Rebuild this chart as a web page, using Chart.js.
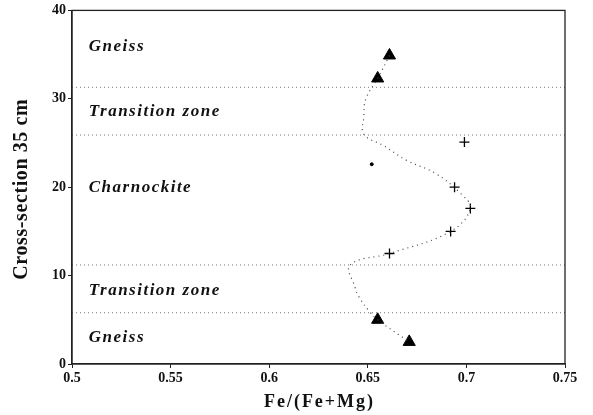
<!DOCTYPE html>
<html>
<head>
<meta charset="utf-8">
<script src="https://cdn.jsdelivr.net/npm/chart.js@4/dist/chart.umd.min.js"></script>
<style>
  html, body { margin: 0; padding: 0; background: #fff; }
  #wrap { width: 593px; height: 415px; }
</style>
</head>
<body>
<div id="wrap"><canvas id="chart"></canvas></div>
<script>
// measured samples
const triX = [0.661, 0.655, 0.655, 0.671];
const triY = [34.9, 32.3, 5.0, 2.5];
const crossX = [0.699, 0.694, 0.702, 0.692, 0.661];
const crossY = [25.1, 20.0, 17.6, 15.0, 12.5];
const dotX = [0.652];
const dotY = [22.6];

// fitted dotted profile
const curveX = [0.661, 0.655, 0.649, 0.648, 0.648, 0.658, 0.670, 0.684, 0.697, 0.702, 0.692, 0.661, 0.641, 0.6435, 0.6455, 0.651, 0.655, 0.671];
const curveY = [34.9, 32.3, 30.0, 28.0, 26.0, 24.7, 23.0, 21.6, 19.3, 17.6, 15.0, 12.5, 11.2, 8.7, 7.6, 5.9, 5.0, 2.5];

// zone boundaries and names
const boundaries = [31.3, 25.9, 11.2, 5.8];
const zoneNames = ['Gneiss', 'Transition zone', 'Charnockite', 'Transition zone', 'Gneiss'];
const zoneY = [35.9, 28.5, 20.0, 8.3, 3.0];

const xTicks = [0.5, 0.55, 0.6, 0.65, 0.7, 0.75];
const yTicks = [0, 10, 20, 30, 40];

const xTitle = 'Fe/(Fe+Mg)';
const yTitle = 'Cross-section 35 cm';

const SERIF = '"Liberation Serif", "DejaVu Serif", serif';

function pts(xs, ys) {
    return xs.map((x, i) => ({ x: x, y: ys[i] }));
}

const boundarySets = boundaries.map(b => ({
    data: [{ x: 0.5, y: b }, { x: 0.75, y: b }],
    showLine: true,
    borderColor: '#777',
    borderWidth: 1,
    borderDash: [1, 3],
    pointRadius: 0
}));

const frameAndLabels = {
    id: 'frameAndLabels',
    afterDatasetsDraw(chart) {
        const ctx = chart.ctx;
        const a = chart.chartArea;
        const xs = chart.scales.x, ys = chart.scales.y;
        ctx.save();
        ctx.strokeStyle = '#222';
        ctx.lineWidth = 1.3;
        ctx.strokeRect(a.left, a.top, a.right - a.left, a.bottom - a.top);
        ctx.fillStyle = '#111';

        // zone names
        ctx.font = 'italic bold 17px ' + SERIF;
        ctx.letterSpacing = '1.5px';
        ctx.textBaseline = 'middle';
        ctx.textAlign = 'left';
        zoneNames.forEach((name, i) => {
            ctx.fillText(name, xs.getPixelForValue(0.5085), ys.getPixelForValue(zoneY[i]));
        });

        // axis titles
        ctx.textAlign = 'center';
        ctx.textBaseline = 'alphabetic';
        ctx.font = 'bold 18px ' + SERIF;
        ctx.letterSpacing = '2px';
        ctx.fillText(xTitle, (a.left + a.right) / 2 + 1, 407);

        ctx.font = 'bold 20px ' + SERIF;
        ctx.letterSpacing = '0.6px';
        ctx.translate(27, (a.top + a.bottom) / 2 + 2);
        ctx.rotate(-Math.PI / 2);
        ctx.fillText(yTitle, 0, 0);
        ctx.restore();
    }
};

new Chart(document.getElementById('chart'), {
    type: 'scatter',
    data: {
        datasets: [
            ...boundarySets,
            {
                data: pts(curveX, curveY),
                showLine: true,
                borderColor: '#444',
                borderWidth: 1.2,
                borderDash: [1, 4],
                tension: 0.4,
                pointRadius: 0
            },
            {
                data: pts(triX, triY),
                pointStyle: 'triangle',
                pointRadius: 7,
                backgroundColor: '#000',
                borderColor: '#000'
            },
            {
                data: pts(crossX, crossY),
                pointStyle: 'cross',
                pointRadius: 5,
                borderWidth: 1.3,
                borderColor: '#000'
            },
            {
                data: pts(dotX, dotY),
                pointRadius: 1.5,
                backgroundColor: '#000',
                borderColor: '#000'
            }
        ]
    },
    options: {
        responsive: true,
        maintainAspectRatio: false,
        animation: false,
        layout: { padding: { top: 10, right: 28, left: 0, bottom: 0 } },
        plugins: {
            legend: { display: false },
            tooltip: { enabled: false }
        },
        scales: {
            x: {
                type: 'linear',
                min: 0.5,
                max: 0.75,
                afterBuildTicks: s => { s.ticks = xTicks.map(v => ({ value: v })); },
                afterFit: s => { s.height = 51; },
                grid: { drawOnChartArea: false, tickLength: 4, color: '#222' },
                border: { color: '#222', width: 1.3 },
                ticks: {
                    color: '#111',
                    font: { family: SERIF, size: 14, weight: 'bold' },
                    padding: 2,
                    callback: v => String(Number(v.toFixed(2)))
                }
            },
            y: {
                type: 'linear',
                min: 0,
                max: 40,
                afterBuildTicks: s => { s.ticks = yTicks.map(v => ({ value: v })); },
                afterFit: s => { s.width = 72; },
                grid: { drawOnChartArea: false, tickLength: 4, color: '#222' },
                border: { color: '#222', width: 1.3 },
                ticks: {
                    color: '#111',
                    font: { family: SERIF, size: 14, weight: 'bold' },
                    padding: 2
                }
            }
        }
    },
    plugins: [frameAndLabels]
});
</script>
</body>
</html>
